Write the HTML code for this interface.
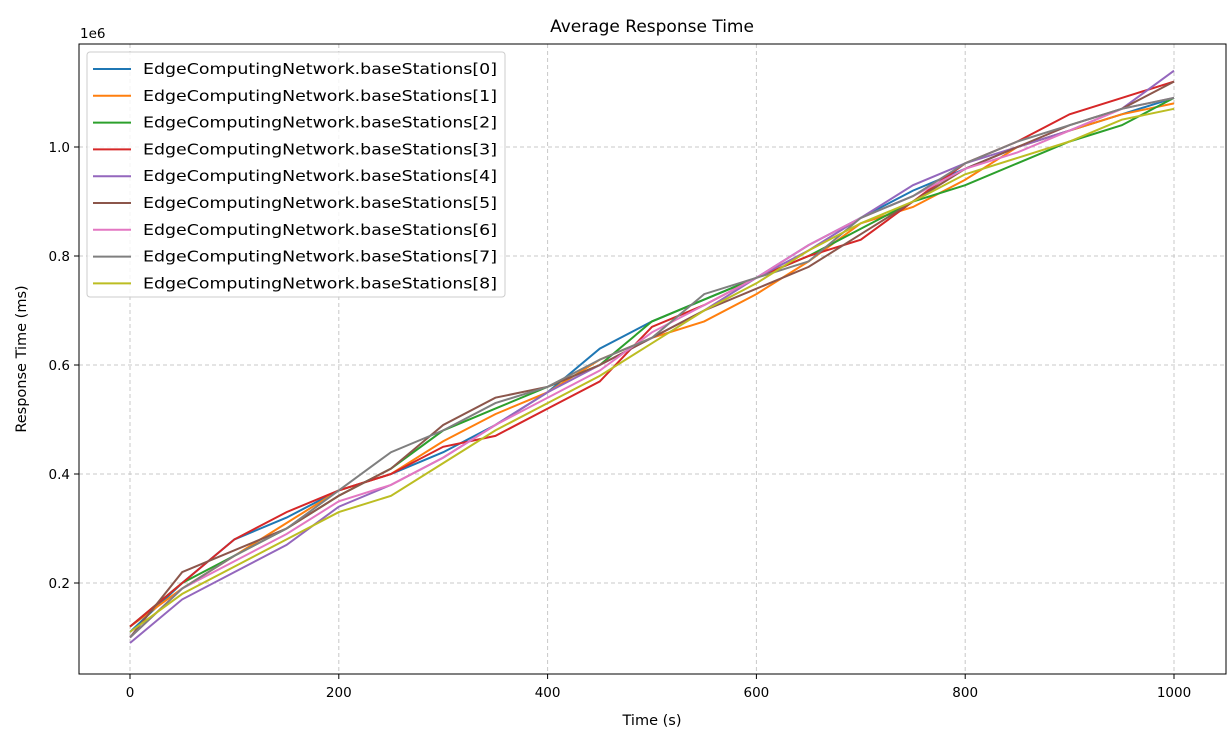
<!DOCTYPE html>
<html><head><meta charset="utf-8">
<style>
body{margin:0;background:#fff;}
svg{display:block;font-family:"DejaVu Sans","Liberation Sans",sans-serif;}
</style></head>
<body>
<svg id="chart" width="1232" height="746" viewBox="0 0 1232 746" xmlns="http://www.w3.org/2000/svg">
<text x="652" y="32" font-size="17" text-anchor="middle">Average Response Time</text>
<text x="652" y="725" font-size="14.5" text-anchor="middle">Time (s)</text>
<text x="26" y="359" font-size="14.5" text-anchor="middle" transform="rotate(-90 26 359)">Response Time (ms)</text>
<text x="80" y="38" font-size="13.5">1e6</text>
<g id="grid"></g>
<g id="series"></g>
<rect x="79" y="44" width="1147" height="630" fill="none" stroke="#000" stroke-width="1"/>
<g id="ticks"></g>
<g id="legend"></g>
</svg>
<script>
const times=[0,50,100,150,200,250,300,350,400,450,500,550,600,650,700,750,800,850,900,950,1000];
const seriesNames=["EdgeComputingNetwork.baseStations[0]","EdgeComputingNetwork.baseStations[1]","EdgeComputingNetwork.baseStations[2]","EdgeComputingNetwork.baseStations[3]","EdgeComputingNetwork.baseStations[4]","EdgeComputingNetwork.baseStations[5]","EdgeComputingNetwork.baseStations[6]","EdgeComputingNetwork.baseStations[7]","EdgeComputingNetwork.baseStations[8]"];
const s0=[0.11,0.20,0.28,0.32,0.37,0.40,0.44,0.49,0.55,0.63,0.68,0.72,0.76,0.82,0.87,0.92,0.96,1.00,1.03,1.06,1.09];
const s1=[0.12,0.19,0.25,0.31,0.37,0.40,0.46,0.51,0.55,0.61,0.65,0.68,0.73,0.79,0.86,0.89,0.94,1.00,1.03,1.06,1.08];
const s2=[0.12,0.20,0.25,0.30,0.36,0.41,0.48,0.52,0.56,0.60,0.68,0.72,0.76,0.80,0.85,0.90,0.93,0.97,1.01,1.04,1.09];
const s3=[0.12,0.20,0.28,0.33,0.37,0.40,0.45,0.47,0.52,0.57,0.67,0.71,0.76,0.80,0.83,0.90,0.97,1.01,1.06,1.09,1.12];
const s4=[0.09,0.17,0.22,0.27,0.34,0.38,0.43,0.49,0.55,0.60,0.65,0.70,0.76,0.81,0.87,0.93,0.97,1.00,1.03,1.07,1.14];
const s5=[0.10,0.22,0.26,0.30,0.36,0.41,0.49,0.54,0.56,0.60,0.65,0.70,0.74,0.78,0.84,0.90,0.96,1.00,1.04,1.07,1.12];
const s6=[0.10,0.19,0.24,0.29,0.35,0.38,0.43,0.49,0.54,0.59,0.66,0.71,0.76,0.82,0.87,0.91,0.96,0.99,1.03,1.07,1.09];
const s7=[0.10,0.19,0.25,0.30,0.37,0.44,0.48,0.53,0.56,0.61,0.65,0.73,0.76,0.79,0.87,0.91,0.97,1.01,1.04,1.07,1.09];
const s8=[0.11,0.18,0.23,0.28,0.33,0.36,0.42,0.48,0.53,0.58,0.64,0.70,0.75,0.81,0.86,0.90,0.95,0.98,1.01,1.05,1.07];
const xTicks=[0,200,400,600,800,1000];
const yTicks=[0.2,0.4,0.6,0.8,1.0];
const yTickLabels=["0.2","0.4","0.6","0.8","1.0"];
const allSeries=[s0,s1,s2,s3,s4,s5,s6,s7,s8];
const colors=["#1f77b4","#ff7f0e","#2ca02c","#d62728","#9467bd","#8c564b","#e377c2","#7f7f7f","#bcbd22"];
const NS="http://www.w3.org/2000/svg";
const X=v=>130+v*1.044;
const Y=v=>583-(v-0.2)*545;
function mk(tag,attrs,parent){const e=document.createElementNS(NS,tag);for(const k in attrs)e.setAttribute(k,attrs[k]);parent.appendChild(e);return e;}
const grid=document.getElementById('grid'),ticks=document.getElementById('ticks'),ser=document.getElementById('series'),leg=document.getElementById('legend');
xTicks.forEach(t=>{
  const g=mk('line',{x1:X(t),x2:X(t),y1:44,y2:674,stroke:'#c8c8c8','stroke-dasharray':'4,3','stroke-width':1},grid);
  
  const tk=mk('line',{x1:X(t),x2:X(t),y1:674,y2:679,stroke:'#000'},ticks);
  
  const tx=mk('text',{x:X(t),y:697,'font-size':13.5,'text-anchor':'middle'},ticks);tx.textContent=t;
  
});
yTicks.forEach((t,i)=>{
  const g=mk('line',{x1:79,x2:1226,y1:Y(t),y2:Y(t),stroke:'#c8c8c8','stroke-dasharray':'4,3','stroke-width':1},grid);
  
  const tk=mk('line',{x1:74,x2:79,y1:Y(t),y2:Y(t),stroke:'#000'},ticks);
  
  const tx=mk('text',{x:70,y:Y(t)+5,'font-size':13.5,'text-anchor':'end'},ticks);tx.textContent=yTickLabels[i];
  
});
allSeries.forEach((s,i)=>{
  const d=s.map((v,j)=>(j?'L':'M')+X(times[j]).toFixed(1)+','+Y(v).toFixed(1)).join(' ');
  const p=mk('path',{d:d,fill:'none',stroke:colors[i],'stroke-width':2},ser);
  
});
const box=mk('rect',{x:87,y:52,width:418,height:245,rx:3,fill:'#fff','fill-opacity':0.8,stroke:'#ccc'},leg);

seriesNames.forEach((n,i)=>{
  const y=69+i*26.8;
  const l=mk('line',{x1:93,x2:131,y1:y,y2:y,stroke:colors[i],'stroke-width':2},leg);
  
  const t=mk('text',{x:143,y:y+5,'font-size':15,textLength:354,lengthAdjust:'spacingAndGlyphs'},leg);t.textContent=n;
  
});
</script>
</body></html>
